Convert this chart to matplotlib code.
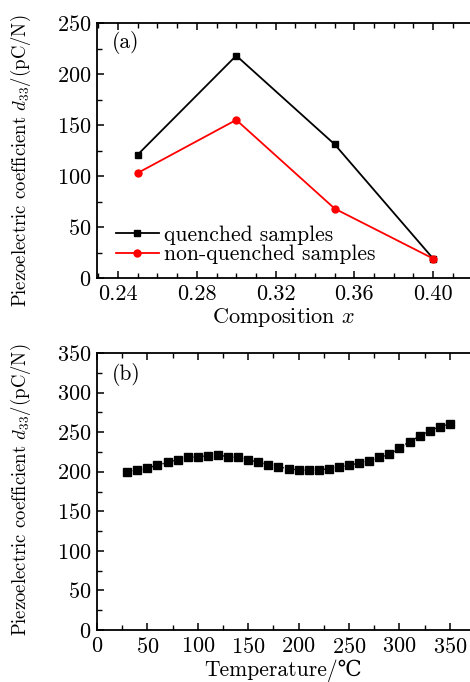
import matplotlib
matplotlib.use("Agg")
import matplotlib.pyplot as plt
from matplotlib.ticker import MultipleLocator

plt.rcParams['font.family'] = ['cmr10', 'DejaVu Serif']
plt.rcParams['mathtext.fontset'] = 'cm'
plt.rcParams['axes.formatter.use_mathtext'] = True

# Panel (a) data
composition = [0.25, 0.30, 0.35, 0.40]
quenched = [121, 218, 131, 19]
non_quenched = [103, 155, 68, 19]

# Panel (b) data
temperature = [30, 40, 50, 60, 70, 80, 90, 100, 110, 120, 130, 140, 150, 160, 170,
               180, 190, 200, 210, 220, 230, 240, 250, 260, 270, 280, 290, 300, 310,
               320, 330, 340, 350]
d33_temp = [200, 202, 205, 208, 212, 215, 218, 219, 220, 221, 219, 218, 215, 212, 209,
            206, 204, 202, 202, 202, 204, 206, 208, 211, 214, 218, 222, 230, 238,
            245, 252, 257, 260]

W, H = 470, 682
fig = plt.figure(figsize=(W/100, H/100), dpi=100)

def pos(l, t, r, b):
    return [l/W, 1 - b/H, (r - l)/W, (b - t)/H]

ylabel = 'Piezoelectric coefficient $d_{33}$/(pC/N)'
TICK_FS = 16

def style(ax):
    ax.spines['right'].set_visible(False)
    for s in ['left', 'top', 'bottom']:
        ax.spines[s].set_linewidth(1.3)
    ax.tick_params(which='both', direction='in', top=False, right=False, labelsize=TICK_FS)
    ax.tick_params(which='major', length=5, width=1.1, pad=4)
    ax.tick_params(which='minor', length=3.5, width=1.0)
    ax.tick_params(axis='x', which='both', top=True, labeltop=False)
    ax.tick_params(axis='x', which='major', pad=5)

# (a)
ax1 = fig.add_axes(pos(97, 23, 470, 278))
ax1.plot(composition, quenched, color='black', marker='s', markersize=5, lw=1.3,
         label='quenched samples')
ax1.plot(composition, non_quenched, color='red', marker='o', markersize=5, lw=1.3,
         label='non-quenched samples')
ax1.set_xlim(0.2293, 0.4187)
ax1.set_ylim(0, 250)
ax1.xaxis.set_minor_locator(MultipleLocator(0.01))
ax1.yaxis.set_major_locator(MultipleLocator(50))
ax1.yaxis.set_minor_locator(MultipleLocator(25))
ax1.set_xticks([0.24, 0.28, 0.32, 0.36, 0.40])
ax1.set_xticklabels(['0.24', '0.28', '0.32', '0.36', '0.40'])
style(ax1)
ax1.set_xlabel('Composition $x$', fontsize=16, labelpad=1)
ax1.set_ylabel(ylabel, fontsize=13.5)
ax1.yaxis.set_label_coords(-0.172, 0.46)
ax1.text(0.04, 0.97, '(a)', transform=ax1.transAxes, fontsize=15.5, va='top', ha='left')
ax1.legend(loc='lower left', bbox_to_anchor=(0.01, -0.005), frameon=False, fontsize=15.5,
           handlelength=2.0, handletextpad=0.25, labelspacing=0.0, borderaxespad=0.3)

# (b)
ax2 = fig.add_axes(pos(97, 353, 470, 630))
ax2.plot(temperature, d33_temp, color='black', marker='s', markersize=5.5, lw=1.0,
         ls=(0, (1, 1)))
ax2.set_xlim(0, 370)
ax2.set_ylim(0, 350)
ax2.xaxis.set_major_locator(MultipleLocator(50))
ax2.xaxis.set_minor_locator(MultipleLocator(25))
ax2.yaxis.set_major_locator(MultipleLocator(50))
ax2.yaxis.set_minor_locator(MultipleLocator(25))
style(ax2)
ax2.set_xlabel('Temperature/\u2103', fontsize=15.5, labelpad=2)
ax2.set_ylabel(ylabel, fontsize=13.5)
ax2.yaxis.set_label_coords(-0.172, 0.505)
ax2.text(0.04, 0.965, '(b)', transform=ax2.transAxes, fontsize=15.5, va='top', ha='left')

fig.savefig('out.png', dpi=100)
